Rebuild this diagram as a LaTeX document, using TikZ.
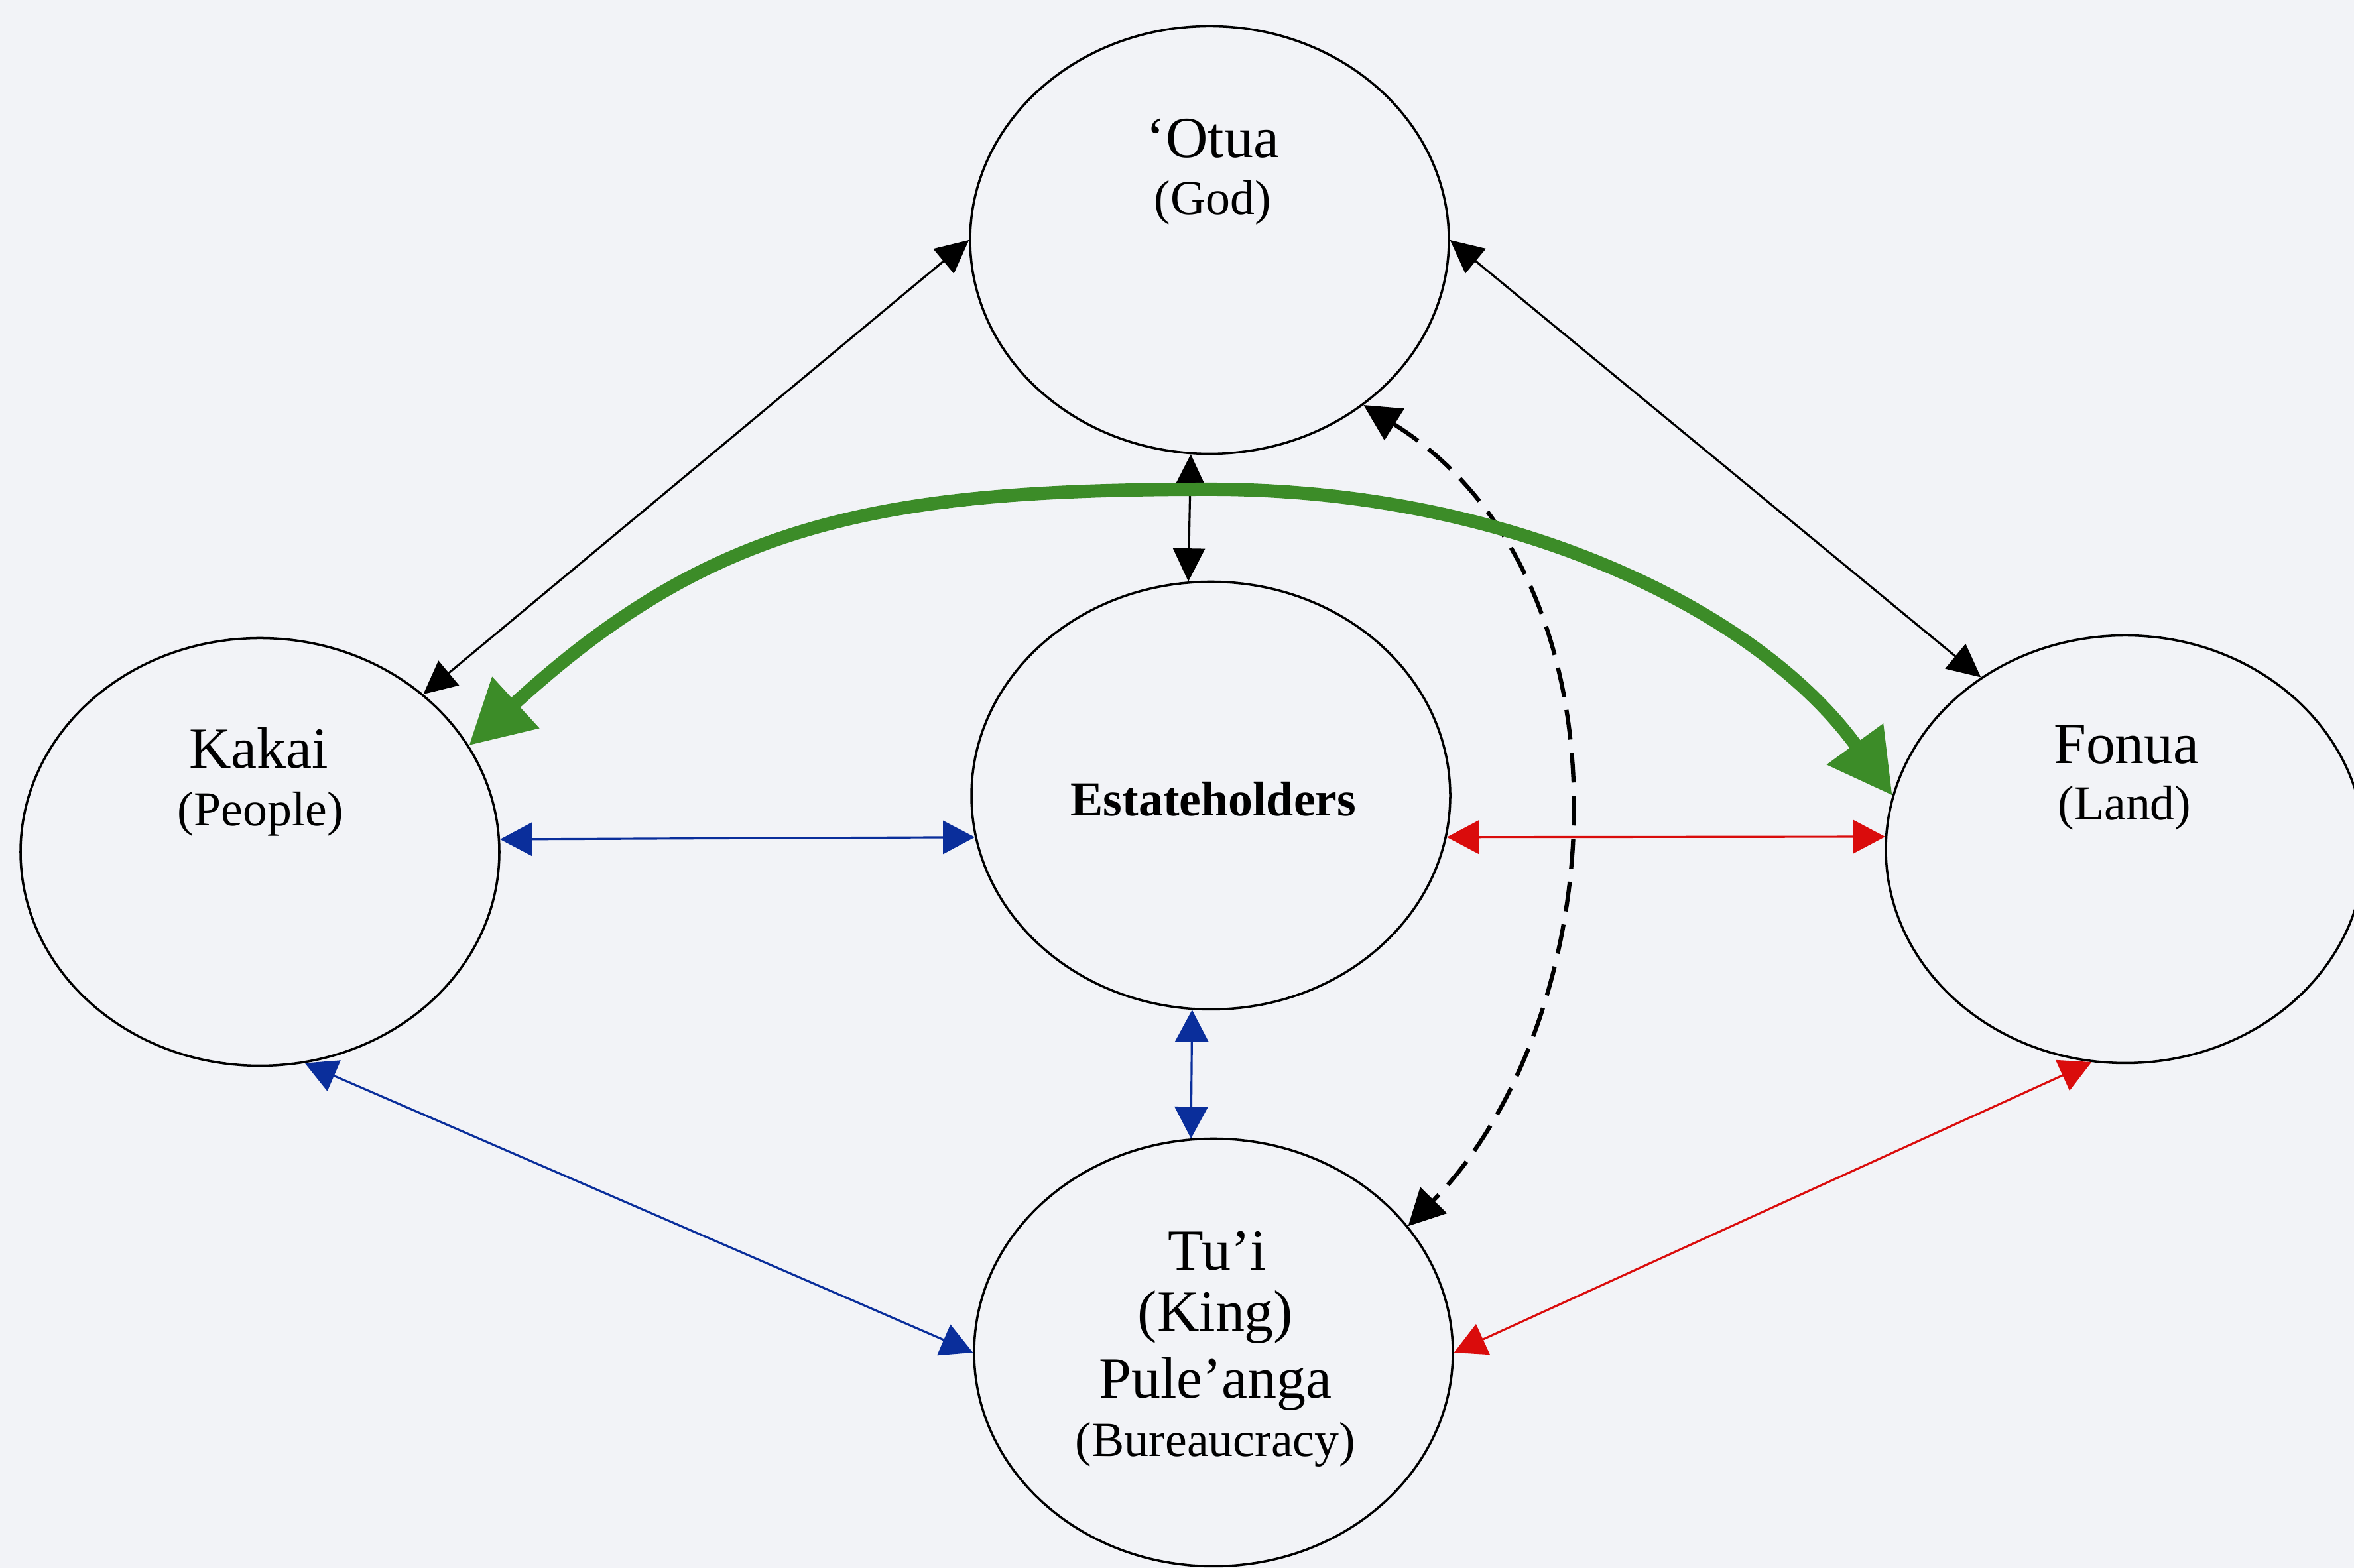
\documentclass[tikz,border=0pt]{standalone}
\usepackage{fontspec}
\setmainfont{Liberation Serif}
\usetikzlibrary{arrows.meta,shapes.geometric}
\definecolor{bgc}{RGB}{242,243,247}
\definecolor{grn}{RGB}{60,140,40}
\definecolor{blu}{RGB}{10,46,155}
\definecolor{rd}{RGB}{218,12,12}
\begin{document}
\begin{tikzpicture}[
  ent/.style={ellipse, draw=black, line width=1pt, minimum width=7.22cm, minimum height=6.45cm, inner sep=0pt},
  maintext/.style={font=\fontsize{25}{30}\selectfont, inner sep=0pt},
  subtext/.style={font=\fontsize{21}{25}\selectfont, inner sep=0pt},
  boldtext/.style={font=\fontsize{21}{25}\selectfont\bfseries, inner sep=0pt},
  blkarr/.style={draw=black, line width=0.9pt, {Triangle[length=0.5cm,width=0.48cm]}-{Triangle[length=0.5cm,width=0.48cm]}},
  bluarr/.style={draw=blu, line width=0.9pt, {Triangle[length=0.48cm,width=0.5cm,fill=blu]}-{Triangle[length=0.48cm,width=0.5cm,fill=blu]}},
  redarr/.style={draw=rd, line width=0.9pt, {Triangle[length=0.48cm,width=0.5cm,fill=rd]}-{Triangle[length=0.48cm,width=0.5cm,fill=rd]}},
  dasharr/.style={draw=black, line width=1.8pt, dash pattern=on 0.45cm off 0.2cm, {Triangle[length=0.55cm,width=0.55cm]}-{Triangle[length=0.55cm,width=0.55cm]}},
  grnarr/.style={draw=grn, line width=0.2cm, {Triangle[length=0.96cm,width=1.0cm,fill=grn]}-{Triangle[length=0.96cm,width=1.0cm,fill=grn]}}
]
\useasboundingbox (0,0) rectangle (35.5,23.65);
\fill[bgc] (0,0) rectangle (35.5,23.65);
\clip (0,0) rectangle (35.5,23.65);

% circles
\node[ent] (otua)  at (18.24,20.03) {};
\node[ent] (est)   at (18.26,11.65) {};
\node[ent] (kakai) at (3.92,10.80) {};
\node[ent] (fonua) at (32.05,10.84) {};
\node[ent] (tui)   at (18.30,3.25) {};

% texts
\node[maintext] (otuaA) at (18.29,21.56) {‘Otua};
\node[subtext]  (otuaB) at (18.29,20.59) {(God)};
\node[maintext] (kakaiA) at (3.90,12.37) {Kakai};
\node[subtext]  (kakaiB) at (3.93,11.37) {(People)};
\node[maintext] (fonuaA) at (32.07,12.42) {Fonua};
\node[subtext]  (fonuaB) at (32.04,11.46) {(Land)};
\node[boldtext] (estA) at (18.30,11.60) {Estateholders};
\node[maintext] (tuiA) at (18.36,4.78) {Tu’i};
\node[maintext] (tuiB) at (18.33,3.78) {(King)};
\node[maintext] (tuiC) at (18.33,2.77) {Pule’anga};
\node[subtext]  (tuiD) at (18.33,1.86) {(Bureaucracy)};

% black connectors
\draw[blkarr] (otua.180) -- (kakai.44);
\draw[blkarr] (otua.0) -- (fonua.130);
\draw[blkarr] (otua.-95.5) -- (est.96);

% blue connectors
\draw[bluarr] (kakai.3) -- (est.190);
\draw[bluarr] (est.-95.3) -- (tui.96);
\draw[bluarr] (kakai.-78.8) -- (tui.180);

% red connectors
\draw[redarr] (est.-10) -- (fonua.177);
\draw[redarr] (fonua.-99.5) -- (tui.0);

% dashed connector
\draw[dasharr] (otua.-47.8) .. controls (24.79,14.89) and (24.30,8.27) .. (tui.33.7);

% green connector
\coordinate (gtop) at (18.25,16.27);
\draw[grnarr] (kakai.27.6) .. controls (10.75,15.78) and (13.25,16.27) .. (gtop)
  .. controls (22.75,16.27) and (26.49,14.47) .. (fonua.167);
\end{tikzpicture}
\end{document}
